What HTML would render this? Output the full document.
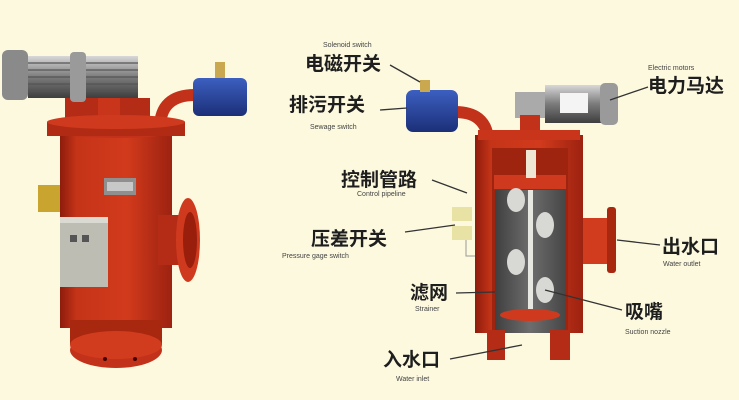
<!DOCTYPE html>
<html><head><meta charset="utf-8"><style>
html,body{margin:0;padding:0;background:#fdf9df;}
svg{display:block}
text{font-family:"Liberation Sans","Noto Sans CJK SC",sans-serif;fill:#1e1e1e}
.cn{font-size:19px;font-weight:bold}
.en{font-size:7px;fill:#444}
.ln{stroke:#333;stroke-width:1.3;fill:none}
</style></head><body>
<svg width="739" height="400" viewBox="0 0 739 400" xmlns="http://www.w3.org/2000/svg">
<defs>
<linearGradient id="red" x1="0" x2="1">
<stop offset="0" stop-color="#8e1c0c"/><stop offset="0.15" stop-color="#c53418"/><stop offset="0.6" stop-color="#d23a1c"/><stop offset="1" stop-color="#9c2210"/>
</linearGradient>
<linearGradient id="grey" x1="0" x2="0" y1="0" y2="1">
<stop offset="0" stop-color="#d8d8d8"/><stop offset="0.5" stop-color="#7b7b7b"/><stop offset="1" stop-color="#3e3e3e"/>
</linearGradient>
<linearGradient id="blue" x1="0" x2="0" y1="0" y2="1">
<stop offset="0" stop-color="#3c5fc0"/><stop offset="1" stop-color="#1c2f78"/>
</linearGradient>
<linearGradient id="steel" x1="0" x2="1">
<stop offset="0" stop-color="#3f3f3f"/><stop offset="0.5" stop-color="#6d6d6d"/><stop offset="1" stop-color="#474747"/>
</linearGradient>
</defs>
<rect width="739" height="400" fill="#fdf9df"/>

<!-- LEFT FILTER -->
<!-- pipe to valve -->
<path d="M160 128 Q160 95 195 95" stroke="#c2321a" stroke-width="12" fill="none"/>
<!-- blue valve -->
<rect x="193" y="78" width="54" height="38" rx="6" fill="url(#blue)"/>
<rect x="215" y="62" width="10" height="16" fill="#c9a850"/>
<!-- top stand -->
<rect x="65" y="98" width="85" height="24" fill="#b52c16"/>
<rect x="98" y="92" width="22" height="30" fill="#c9351a"/>
<!-- motor -->
<rect x="28" y="56" width="110" height="42" fill="url(#grey)"/>
<g stroke="#555" stroke-width="1.2">
<line x1="28" y1="63" x2="138" y2="63"/><line x1="28" y1="70" x2="138" y2="70"/><line x1="28" y1="77" x2="138" y2="77"/><line x1="28" y1="84" x2="138" y2="84"/><line x1="28" y1="91" x2="138" y2="91"/></g>
<rect x="2" y="50" width="26" height="50" rx="6" fill="#8a8a8a"/>
<rect x="70" y="52" width="16" height="50" rx="4" fill="#9a9a9a"/>
<!-- body -->
<rect x="60" y="128" width="112" height="200" fill="url(#red)"/>
<ellipse cx="116" cy="128" rx="69" ry="10" fill="#c2321a"/>
<rect x="47" y="122" width="138" height="14" fill="#b02a14"/>
<ellipse cx="116" cy="122" rx="69" ry="7" fill="#cf3a1e"/>
<!-- bottom flange -->
<rect x="70" y="320" width="92" height="25" fill="#a8280f"/>
<ellipse cx="116" cy="350" rx="46" ry="18" fill="#c2321a"/>
<ellipse cx="116" cy="345" rx="46" ry="14" fill="#d23c1e"/>
<circle cx="105" cy="359" r="2" fill="#400"/><circle cx="135" cy="359" r="2" fill="#400"/>
<!-- outlet -->
<rect x="158" y="215" width="25" height="50" fill="#b52c16"/>
<ellipse cx="188" cy="240" rx="12" ry="42" fill="#cf3a1e"/>
<ellipse cx="190" cy="240" rx="7" ry="28" fill="#9a1e0c"/>
<!-- brass -->
<rect x="38" y="185" width="22" height="27" fill="#c9a530"/>
<!-- nameplate -->
<rect x="104" y="178" width="32" height="17" fill="#8f8f8f"/>
<rect x="107" y="182" width="26" height="9" fill="#c8c8c8"/>
<!-- control box -->
<rect x="60" y="217" width="48" height="70" fill="#bdbdb4"/>
<rect x="60" y="217" width="48" height="6" fill="#dadad2"/>
<rect x="70" y="235" width="7" height="7" fill="#555"/><rect x="82" y="235" width="7" height="7" fill="#555"/>

<!-- RIGHT CUTAWAY -->
<!-- pipe -->
<path d="M455 112 Q485 112 488 138" stroke="#c2321a" stroke-width="12" fill="none"/>
<!-- valve -->
<rect x="406" y="90" width="52" height="42" rx="7" fill="url(#blue)"/>
<rect x="420" y="80" width="10" height="12" fill="#c9a850"/>
<!-- motor -->
<rect x="515" y="92" width="30" height="26" fill="#aaa"/>
<rect x="545" y="85" width="62" height="38" fill="url(#grey)"/>
<rect x="560" y="93" width="28" height="20" fill="#f4f4f4"/>
<rect x="600" y="83" width="18" height="42" rx="5" fill="#9a9a9a"/>
<rect x="520" y="115" width="20" height="20" fill="#c2321a"/>
<!-- body outer -->
<rect x="475" y="135" width="108" height="198" fill="url(#red)"/>
<rect x="478" y="130" width="102" height="10" fill="#c9351a"/>
<!-- cavity -->
<rect x="492" y="148" width="76" height="185" fill="#9e2410"/>
<rect x="494" y="175" width="72" height="14" fill="#cf3a1e"/>
<rect x="526" y="150" width="10" height="28" fill="#f0e6d4"/>
<!-- strainer -->
<rect x="495" y="190" width="70" height="143" fill="url(#steel)"/>
<g fill="#d8d8d4">
<ellipse cx="516" cy="200" rx="9" ry="12"/><ellipse cx="545" cy="225" rx="9" ry="13"/>
<ellipse cx="516" cy="262" rx="9" ry="13"/><ellipse cx="545" cy="290" rx="9" ry="13"/></g>
<rect x="528" y="190" width="5" height="128" fill="#e8e8e2"/>
<ellipse cx="530" cy="315" rx="30" ry="6" fill="#cf3a1e"/>
<!-- legs -->
<rect x="487" y="330" width="18" height="30" fill="#b52c16"/>
<rect x="550" y="330" width="20" height="30" fill="#b52c16"/>
<!-- outlet -->
<rect x="583" y="218" width="28" height="46" fill="#d23c1e"/>
<rect x="607" y="207" width="9" height="66" rx="3" fill="#a8280f"/>
<!-- pressure switch -->
<rect x="452" y="207" width="20" height="14" fill="#e8e2a4"/>
<rect x="452" y="226" width="20" height="14" fill="#e8e2a4"/>
<path d="M466 240 V256 H475" stroke="#999" fill="none"/>

<!-- LEADER LINES -->
<line class="ln" x1="390" y1="65" x2="420" y2="82"/>
<line class="ln" x1="380" y1="110" x2="407" y2="108"/>
<line class="ln" x1="432" y1="180" x2="467" y2="193"/>
<line class="ln" x1="405" y1="232" x2="455" y2="225"/>
<line class="ln" x1="456" y1="293" x2="495" y2="292"/>
<line class="ln" x1="545" y1="290" x2="622" y2="310"/>
<line class="ln" x1="450" y1="359" x2="522" y2="345"/>
<line class="ln" x1="617" y1="240" x2="660" y2="245"/>
<line class="ln" x1="610" y1="100" x2="648" y2="87"/>

<!-- LABELS -->
<text class="en" x="323" y="47">Solenoid switch</text>
<text class="cn" x="305" y="70">电磁开关</text>
<text class="cn" x="289" y="111">排污开关</text>
<text class="en" x="310" y="129">Sewage switch</text>
<text class="cn" x="341" y="186">控制管路</text>
<text class="en" x="357" y="196">Control pipeline</text>
<text class="cn" x="311" y="245">压差开关</text>
<text class="en" x="282" y="258">Pressure gage switch</text>
<text class="cn" x="410" y="299">滤网</text>
<text class="en" x="415" y="311">Strainer</text>
<text class="cn" x="625" y="318">吸嘴</text>
<text class="en" x="625" y="334">Suction nozzle</text>
<text class="cn" x="383" y="366">入水口</text>
<text class="en" x="396" y="381">Water inlet</text>
<text class="cn" x="662" y="253">出水口</text>
<text class="en" x="663" y="266">Water outlet</text>
<text class="en" x="648" y="70">Electric motors</text>
<text class="cn" x="648" y="92">电力马达</text>
</svg>
</body></html>
